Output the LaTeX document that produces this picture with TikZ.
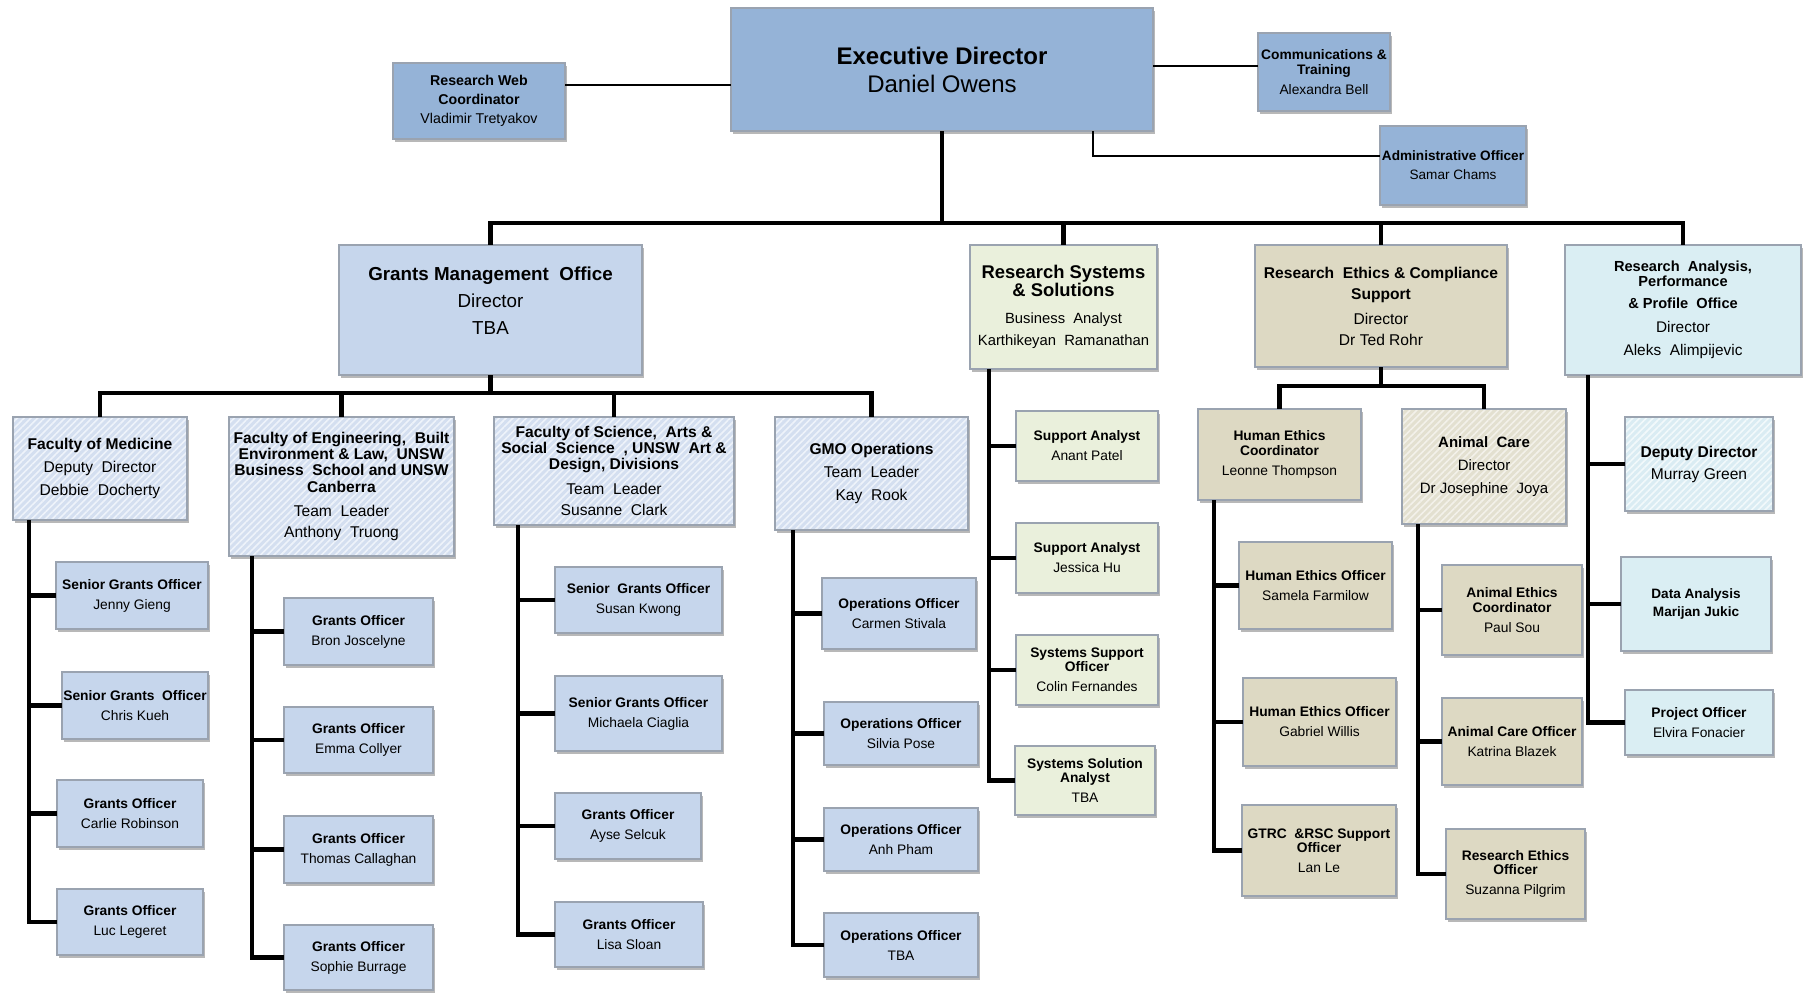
\documentclass[tikz,border=0pt]{standalone}
\usepackage{fontspec}
\setmainfont{Liberation Sans}
\usetikzlibrary{shadows,patterns.meta}
\definecolor{edblue}{HTML}{95B3D7}
\definecolor{lblue}{HTML}{C6D6EC}
\definecolor{hbase}{HTML}{D4DFF0}
\definecolor{hline}{HTML}{EEF3FA}
\definecolor{green1}{HTML}{EAF0DC}
\definecolor{tan1}{HTML}{DDD9C3}
\definecolor{tbase}{HTML}{E3E0D0}
\definecolor{tline}{HTML}{F3F1EA}
\definecolor{cyan1}{HTML}{DAEEF3}
\definecolor{cbase}{HTML}{DAECF3}
\definecolor{cline}{HTML}{F2F9FB}
\definecolor{edge1}{HTML}{9AA3B0}
\tikzset{
 box/.style={draw=edge1, line width=0.6pt, inner sep=0pt, outer sep=0pt, align=center, text=black,
   drop shadow={shadow xshift=1.2pt, shadow yshift=-1.6pt, fill=black, opacity=0.28}},
 medbox/.style={box, fill=edblue},
 bluebox/.style={box, fill=lblue},
 greenbox/.style={box, fill=green1},
 tanbox/.style={box, fill=tan1},
 cyanbox/.style={box, fill=cyan1},
 hblue/.style={box, preaction={fill=hbase}, pattern={Lines[angle=45,distance=2.4pt,line width=0.8pt]}, pattern color=hline},
 htan/.style={box, preaction={fill=tbase}, pattern={Lines[angle=45,distance=2.4pt,line width=0.8pt]}, pattern color=tline},
 hcyan/.style={box, preaction={fill=cbase}, pattern={Lines[angle=45,distance=2.4pt,line width=0.8pt]}, pattern color=cline},
 fOff/.style={font=\fontsize{6.9}{7.2}\selectfont},
 thickc/.style={line width=2.1pt, line join=miter, draw=black},
 thinc/.style={line width=1.1pt, line join=miter, draw=black},
}
\newcommand\bx[6]{\node[#6,minimum width={(#4-#2)*0.5pt},minimum height={(#5-#3)*0.5pt}] (#1) at ({(#2+#4)/2},{(#3+#5)/2})}
\newcommand\gp{\\[2.8pt]}
\begin{document}
\begin{tikzpicture}[x=0.5pt,y=-0.5pt]
\useasboundingbox (0,0) rectangle (1808,992);
% ---------- top level ----------
\bx{web}{393}{63}{565}{139}{medbox,font=\fontsize{7.1}{9.5}\selectfont}{\textbf{Research Web}\\\textbf{Coordinator}\\Vladimir Tretyakov};
\bx{ed}{731}{8}{1153}{131}{medbox,font=\fontsize{12}{14}\selectfont}{\textbf{Executive Director}\\Daniel Owens};
\bx{comms}{1258}{33}{1390}{111}{medbox,fOff}{\textbf{Communications \&}\\\textbf{Training}\gp Alexandra Bell};
\bx{admin}{1380}{126}{1526}{205}{medbox,font=\fontsize{6.8}{9.5}\selectfont}{\textbf{Administrative Officer}\\Samar Chams};
% ---------- second level ----------
\bx{gmo}{339}{245}{642}{375}{bluebox,font=\fontsize{9.4}{13.5}\selectfont,text depth=9pt}{\textbf{Grants Management\ \ Office}\\Director\\TBA};
\bx{rs}{970}{245}{1157}{369}{greenbox,font=\fontsize{9.2}{9.2}\selectfont}{\textbf{Research Systems}\\\textbf{\& Solutions}\\[4.3pt]{\fontsize{7.4}{9}\selectfont Business\ \ Analyst}\\[1.8pt]{\fontsize{7.4}{9}\selectfont Karthikeyan\ \ Ramanathan}};
\bx{eth}{1255}{245}{1507}{367}{tanbox,font=\fontsize{7.8}{10.5}\selectfont}{\textbf{Research\ \ Ethics \& Compliance}\\\textbf{Support}\\[2pt]Director\\Dr Ted Rohr};
\bx{rap}{1565}{245}{1801}{375}{cyanbox,font=\fontsize{7.3}{7.6}\selectfont}{\textbf{Research\ \ Analysis,}\\\textbf{Performance}\\[3.4pt]\textbf{\& Profile\ \ Office}\\[4.4pt]{\fontsize{7.7}{9}\selectfont Director}\\[3.9pt]{\fontsize{7.7}{9}\selectfont Aleks\ \ Alimpijevic}};
% ---------- GMO teams ----------
\bx{med}{13}{417}{187}{520}{hblue,font=\fontsize{7.8}{11.5}\selectfont}{\textbf{Faculty of Medicine}\\Deputy\ \ Director\\Debbie\ \ Docherty};
\bx{eng}{229}{417}{454}{556}{hblue,font=\fontsize{7.8}{8.1}\selectfont}{\textbf{Faculty of Engineering,\ \ Built}\\\textbf{Environment \& Law,\ \ UNSW}\\\textbf{Business\ \ School and UNSW}\\\textbf{Canberra}\\[3.9pt]Team\ \ Leader\\[2.7pt]Anthony\ \ Truong};
\bx{sci}{494}{417}{734}{525}{hblue,font=\fontsize{7.8}{8.1}\selectfont}{\textbf{Faculty of Science,\ \ Arts \&}\\\textbf{Social\ \ Science\ \ , UNSW\ \ Art \&}\\\textbf{Design, Divisions}\\[4.2pt]Team\ \ Leader\\[2.7pt]Susanne\ \ Clark};
\bx{ops}{775}{417}{968}{530}{hblue,font=\fontsize{7.8}{11.3}\selectfont}{\textbf{GMO Operations}\\Team\ \ Leader\\Kay\ \ Rook};
% ---------- Medicine ----------
\bx{jenny}{56}{562}{208}{629}{bluebox,fOff}{\textbf{Senior Grants Officer}\gp Jenny Gieng};
\bx{chris}{62}{672}{208}{739}{bluebox,fOff}{\textbf{Senior Grants\ \ Officer}\gp Chris Kueh};
\bx{carlie}{57}{780}{203}{847}{bluebox,fOff}{\textbf{Grants Officer}\gp Carlie Robinson};
\bx{luc}{57}{889}{203}{955}{bluebox,fOff}{\textbf{Grants Officer}\gp Luc Legeret};
% ---------- Engineering ----------
\bx{bron}{284}{598}{433}{665}{bluebox,fOff}{\textbf{Grants Officer}\gp Bron Joscelyne};
\bx{emma}{284}{707}{433}{773}{bluebox,fOff}{\textbf{Grants Officer}\gp Emma Collyer};
\bx{thomas}{284}{816}{433}{883}{bluebox,fOff}{\textbf{Grants Officer}\gp Thomas Callaghan};
\bx{sophie}{284}{925}{433}{990}{bluebox,fOff}{\textbf{Grants Officer}\gp Sophie Burrage};
% ---------- Science ----------
\bx{susan}{555}{567}{722}{633}{bluebox,fOff}{\textbf{Senior\ \ Grants Officer}\gp Susan Kwong};
\bx{michaela}{555}{676}{722}{751}{bluebox,fOff}{\textbf{Senior Grants Officer}\gp Michaela Ciaglia};
\bx{ayse}{555}{793}{701}{859}{bluebox,fOff}{\textbf{Grants Officer}\gp Ayse Selcuk};
\bx{lisa}{555}{902}{703}{967}{bluebox,fOff}{\textbf{Grants Officer}\gp Lisa Sloan};
% ---------- Operations ----------
\bx{carmen}{822}{578}{976}{649}{bluebox,fOff}{\textbf{Operations Officer}\gp Carmen Stivala};
\bx{silvia}{824}{702}{978}{765}{bluebox,fOff}{\textbf{Operations Officer}\gp Silvia Pose};
\bx{anh}{824}{808}{978}{871}{bluebox,fOff}{\textbf{Operations Officer}\gp Anh Pham};
\bx{opstba}{824}{913}{978}{977}{bluebox,fOff}{\textbf{Operations Officer}\gp TBA};
% ---------- Research Systems ----------
\bx{anant}{1016}{411}{1158}{481}{greenbox,fOff}{\textbf{Support Analyst}\gp Anant Patel};
\bx{jessica}{1016}{523}{1158}{593}{greenbox,fOff}{\textbf{Support Analyst}\gp Jessica Hu};
\bx{colin}{1016}{635}{1158}{705}{greenbox,fOff}{\textbf{Systems Support}\\\textbf{Officer}\gp Colin Fernandes};
\bx{sstba}{1015}{746}{1155}{815}{greenbox,fOff}{\textbf{Systems Solution}\\\textbf{Analyst}\gp TBA};
% ---------- Ethics ----------
\bx{hec}{1198}{409}{1361}{500}{tanbox,fOff}{\textbf{Human Ethics}\\\textbf{Coordinator}\gp Leonne Thompson};
\bx{animal}{1402}{409}{1566}{524}{htan,font=\fontsize{7.5}{11.6}\selectfont}{\textbf{Animal\ \ Care}\\Director\\Dr Josephine\ \ Joya};
\bx{samela}{1239}{542}{1392}{629}{tanbox,fOff}{\textbf{Human Ethics Officer}\gp Samela Farmilow};
\bx{gabriel}{1243}{678}{1396}{766}{tanbox,fOff}{\textbf{Human Ethics Officer}\gp Gabriel Willis};
\bx{lanle}{1242}{805}{1396}{896}{tanbox,fOff}{\textbf{GTRC\ \ \&RSC Support}\\\textbf{Officer}\gp Lan Le};
\bx{paul}{1442}{565}{1582}{655}{tanbox,fOff}{\textbf{Animal Ethics}\\\textbf{Coordinator}\gp Paul Sou};
\bx{katrina}{1442}{698}{1582}{785}{tanbox,fOff}{\textbf{Animal Care Officer}\gp Katrina Blazek};
\bx{suzanna}{1446}{829}{1585}{919}{tanbox,fOff}{\textbf{Research Ethics}\\\textbf{Officer}\gp Suzanna Pilgrim};
% ---------- Analysis ----------
\bx{deputy}{1625}{417}{1773}{511}{hcyan,font=\fontsize{7.8}{11}\selectfont}{\textbf{Deputy Director}\\Murray Green};
\bx{data}{1621}{557}{1771}{651}{cyanbox,font=\fontsize{6.8}{8.9}\selectfont}{\textbf{Data Analysis}\\\textbf{Marijan Jukic}};
\bx{project}{1625}{690}{1773}{755}{cyanbox,fOff}{\textbf{Project Officer}\gp Elvira Fonacier};
% ---------- helper coordinates ----------
\coordinate (busA) at (0,223);
\coordinate (busB) at (0,393);
\coordinate (busC) at (0,386);
\coordinate (yweb) at (0,85);
\coordinate (ycom) at (0,66);
\coordinate (yadm) at (0,156);
\coordinate (xadm) at (1093,0);
\coordinate (vmed) at (29,0);
\coordinate (veng) at (252,0);
\coordinate (vsci) at (518,0);
\coordinate (vops) at (793,0);
\coordinate (vrs) at (989,0);
\coordinate (vhec) at (1214,0);
\coordinate (vani) at (1418,0);
\coordinate (vrap) at (1588,0);
% ---------- connectors ----------
\draw[thinc] (web.east |- yweb) -- (ed.west |- yweb);
\draw[thinc] (ed.east |- ycom) -- (comms.west |- ycom);
\draw[thinc] (ed.south -| xadm) |- (admin.west |- yadm);
\foreach \t in {gmo,rs,eth,rap}{\draw[thickc] (ed.south) -- (ed.south |- busA) -| (\t.north);}
\foreach \t in {med,eng,sci,ops}{\draw[thickc] (gmo.south) -- (gmo.south |- busB) -| (\t.north);}
\foreach \t in {hec,animal}{\draw[thickc] (eth.south) -- (eth.south |- busC) -| (\t.north);}
\foreach \t in {jenny,chris,carlie,luc}{\draw[thickc] (med.south -| vmed) |- (\t.west);}
\foreach \t in {bron,emma,thomas,sophie}{\draw[thickc] (eng.south -| veng) |- (\t.west);}
\foreach \t in {susan,michaela,ayse,lisa}{\draw[thickc] (sci.south -| vsci) |- (\t.west);}
\foreach \t in {carmen,silvia,anh,opstba}{\draw[thickc] (ops.south -| vops) |- (\t.west);}
\foreach \t in {anant,jessica,colin,sstba}{\draw[thickc] (rs.south -| vrs) |- (\t.west);}
\foreach \t in {samela,gabriel,lanle}{\draw[thickc] (hec.south -| vhec) |- (\t.west);}
\foreach \t in {paul,katrina,suzanna}{\draw[thickc] (animal.south -| vani) |- (\t.west);}
\foreach \t in {deputy,data,project}{\draw[thickc] (rap.south -| vrap) |- (\t.west);}
\end{tikzpicture}
\end{document}
